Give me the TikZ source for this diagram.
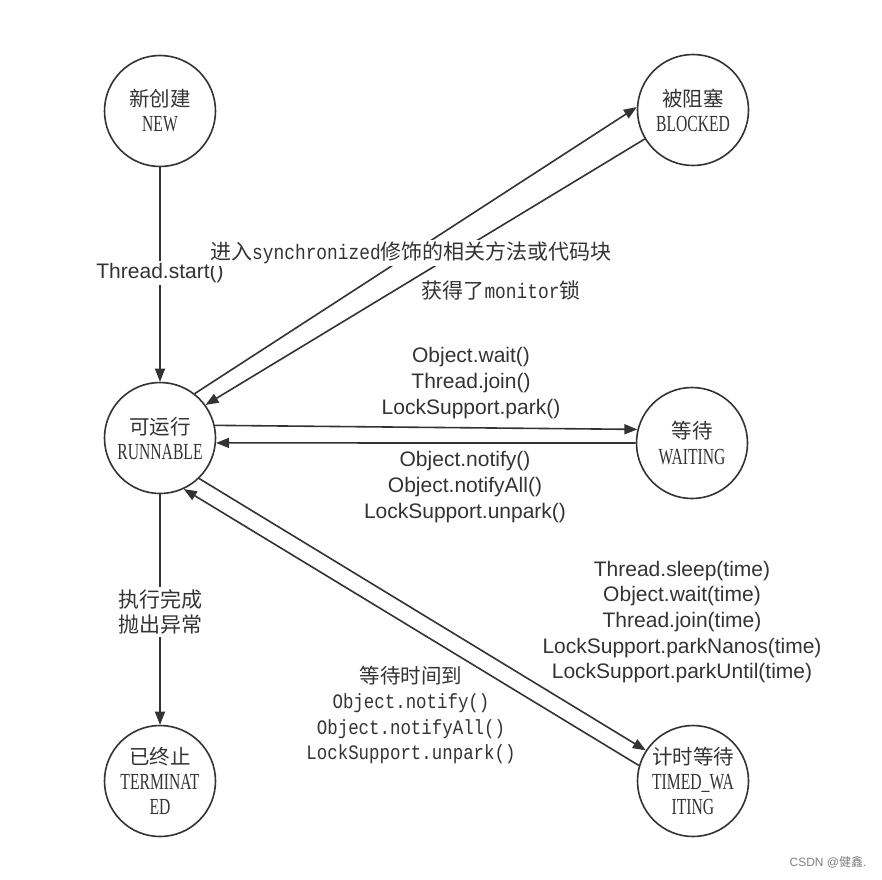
\documentclass[tikz,border=0pt]{standalone}
\usepackage{fontspec}
\setmainfont{Liberation Sans}
\newfontfamily\cjk{Noto Sans CJK SC}
\newfontfamily\condserifface[FakeStretch=0.68]{Liberation Serif}
\newcommand\condserif{\condserifface\fontsize{23}{25}\selectfont}
\newfontfamily\smono[FakeStretch=0.85]{Liberation Mono}
\usetikzlibrary{arrows.meta}
\definecolor{ink}{HTML}{333333}
\begin{document}
\begin{tikzpicture}[x=1pt,y=-1pt,
  state/.style={circle, draw=ink, line width=1.6pt, minimum size=111pt, inner sep=0pt,
    align=center, text=ink, font=\fontsize{20.5}{25}\selectfont},
  arr/.style={draw=ink, line width=1.6pt, -{Triangle[length=13pt,width=10pt]}},
  lbl/.style={text=ink, align=center, inner sep=2pt, font=\fontsize{21}{25.7}\selectfont},
  mlbl/.style={text=ink, align=center, inner sep=2pt, font=\fontsize{20.5}{25.5}\selectfont},
  mask/.style={fill=white}]
\useasboundingbox[fill=white] (0,0) rectangle (882,879);

\node[state] (new) at (160,111) {{\cjk 新创建}\\{\condserif NEW}};
\node[state] (blk) at (693,110) {{\cjk 被阻塞}\\{\condserif BLOCKED}};
\node[state] (run) at (160,438) {{\cjk 可运行}\\{\condserif RUNNABLE}};
\node[state] (wait) at (692,443) {{\cjk 等待}\\{\condserif WAITING}};
\node[state] (term) at (160,781) {{\cjk 已终止}\\{\condserif TERMINAT}\\{\condserif ED}};
\node[state] (timed) at (693,781) {{\cjk 计时等待}\\{\condserif TIMED\_WA}\\{\condserif ITING}};

\draw[arr] (new) -- (run);
\draw[arr] (run.52) -- (blk.177);
\draw[arr] (blk.211) -- (run.36);
\draw[arr] (run.13) -- (wait.166);
\draw[arr] (wait.180) -- (run.-5);
\draw[arr] (run) -- (term);
\draw[arr] (run.-46) -- (timed.147);
\draw[arr] (timed.164) -- (run.-65);

\node[lbl, mask] (lstart) at (160,273) {Thread.start()};
\node[mlbl, mask, font=\fontsize{21}{25.5}\selectfont] (lsync) at (411,253) {{\cjk 进入}{\smono synchronized}{\cjk 修饰的相关方法或代码块}};
\node[mlbl, mask, font=\fontsize{21}{25.5}\selectfont] (lmon) at (501,290) {{\cjk 获得了}{\smono monitor}{\cjk 锁}};
\node[lbl] (lwait) at (471,383) {Object.wait()\\Thread.join()\\LockSupport.park()};
\node[lbl] (lnotify) at (465,487) {Object.notify()\\Object.notifyAll()\\LockSupport.unpark()};
\node[lbl, mask] (ldone) at (160,612) {{\cjk 执行完成}\\{\cjk 抛出异常}};
\node[lbl] (ltimed) at (682,622) {Thread.sleep(time)\\Object.wait(time)\\Thread.join(time)\\LockSupport.parkNanos(time)\\LockSupport.parkUntil(time)};
\node[mlbl] (lback) at (411,715) {{\cjk 等待时间到}\\{\smono Object.notify()}\\{\smono Object.notifyAll()}\\{\smono LockSupport.unpark()}};
\node[text=black!50, inner sep=0pt, font=\fontsize{12}{14}\selectfont] (wm) at (828,862) {CSDN @{\cjk 健鑫}.};
\end{tikzpicture}
\end{document}
